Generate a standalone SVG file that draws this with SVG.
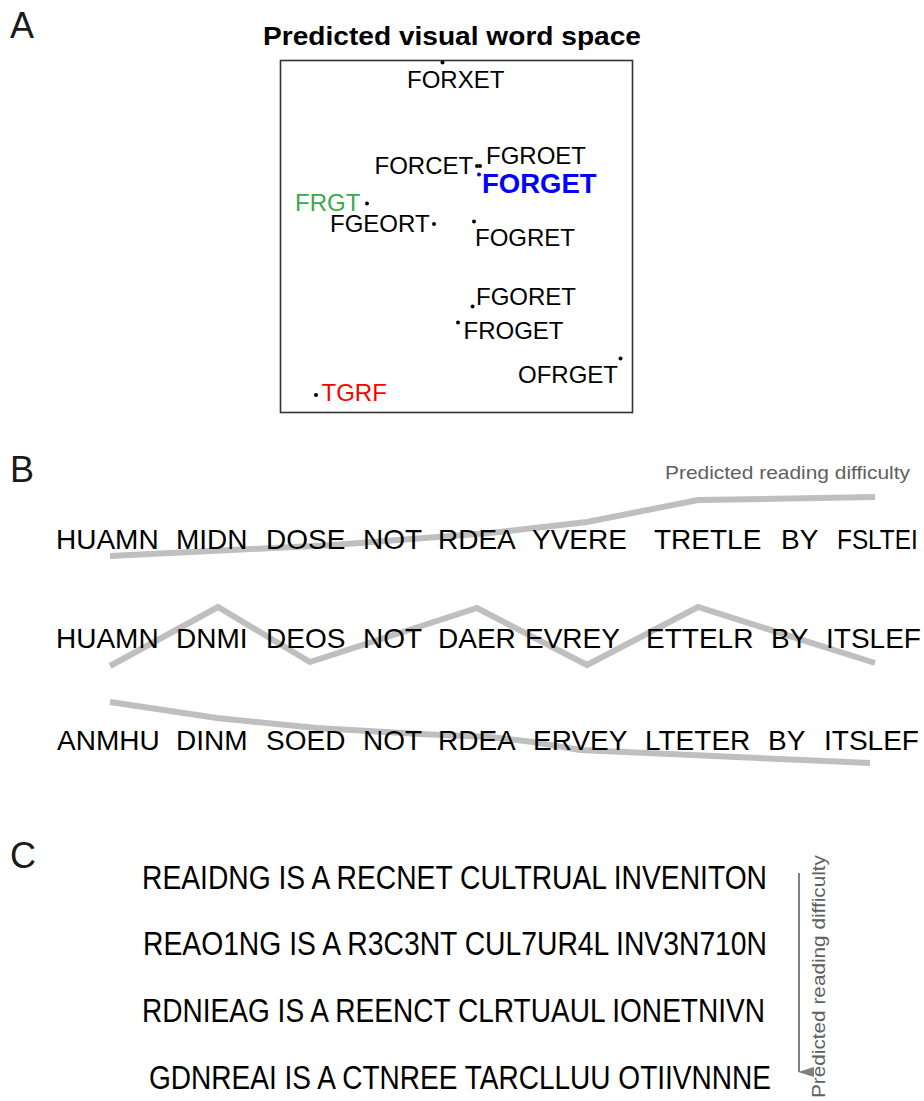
<svg xmlns="http://www.w3.org/2000/svg" width="924" height="1101" viewBox="0 0 924 1101">
<style>
text{font-family:"Liberation Sans",Arial,sans-serif;}
.panel{font-size:36px;fill:#1a1a1a;}
.w{font-size:24px;fill:#000;}
.dot{fill:#000;}
.row{font-size:28px;fill:#000;}
.rowc{font-size:33px;fill:#000;}
.curve{fill:none;stroke:#bfbfbf;stroke-width:6;stroke-linejoin:miter;}
.lab{font-size:19px;fill:#606060;}
</style>
<defs>
<marker id="ah" markerWidth="10" markerHeight="16" refX="5" refY="15" orient="auto-start-reverse" markerUnits="userSpaceOnUse" viewBox="0 0 10 16">
<path d="M0,0 L10,0 L5,16 Z" fill="#808080"/>
</marker>
</defs>
<rect width="924" height="1101" fill="#fff"/>

<g id="panel-labels">
<text class="panel" x="10" y="38">A</text>
<text class="panel" x="10" y="482">B</text>
<text class="panel" x="10" y="868">C</text>
</g>

<g id="panelA">
<text x="452" y="45" text-anchor="middle" font-size="25" font-weight="bold" textLength="378" lengthAdjust="spacingAndGlyphs">Predicted visual word space</text>
<rect x="280.5" y="60.5" width="352" height="352" fill="none" stroke="#333" stroke-width="1.6"/>
<g id="n-FORXET"><circle class="dot" cx="442.5" cy="62.5" r="2"/><text class="w" x="407" y="88">FORXET</text></g>
<g id="n-FGROET"><circle class="dot" cx="480" cy="166" r="2"/><text class="w" x="486" y="164">FGROET</text></g>
<g id="n-FORCET"><circle class="dot" cx="477" cy="166" r="2"/><text class="w" x="374.5" y="174">FORCET</text></g>
<g id="n-FORGET"><circle cx="479" cy="174.5" r="2" fill="#0000ff"/><text x="482" y="193" font-size="27.5" font-weight="bold" fill="#0000ff">FORGET</text></g>
<g id="n-FRGT"><circle class="dot" cx="367" cy="203.5" r="2"/><text x="295" y="210.5" font-size="24" fill="#3aa94b">FRGT</text></g>
<g id="n-FGEORT"><circle class="dot" cx="434" cy="224" r="2"/><text class="w" x="330" y="231.5">FGEORT</text></g>
<g id="n-FOGRET"><circle class="dot" cx="474" cy="221.5" r="2"/><text class="w" x="475" y="246">FOGRET</text></g>
<g id="n-FGORET"><circle class="dot" cx="472.5" cy="306.5" r="2"/><text class="w" x="476" y="305">FGORET</text></g>
<g id="n-FROGET"><circle class="dot" cx="458" cy="322.5" r="2"/><text class="w" x="463.5" y="339">FROGET</text></g>
<g id="n-OFRGET"><circle class="dot" cx="620.5" cy="358.5" r="2"/><text class="w" x="518" y="382.5">OFRGET</text></g>
<g id="n-TGRF"><circle class="dot" cx="316" cy="395" r="2"/><text x="321.5" y="401" font-size="24" fill="#ff0000">TGRF</text></g>
</g>

<g id="panelB">
<g id="connectors">
<polyline class="curve" points="110,556 333,545 490,533 587,522 698,500 875,497"/>
<polyline class="curve" points="110,666 218,607 310,662 477,608 587,665 698,607 875,663"/>
<polyline class="curve" points="110,702 217,718 317,728 420,734 490,737 533,742 580,750 870,763"/>
</g>
<text class="lab" x="665" y="479" textLength="245" lengthAdjust="spacingAndGlyphs">Predicted reading difficulty</text>
<text class="row" y="549"><tspan x="56">HUAMN</tspan><tspan x="176">MIDN</tspan><tspan x="266">DOSE</tspan><tspan x="363">NOT</tspan><tspan x="438">RDEA</tspan><tspan x="532">YVERE</tspan><tspan x="654">TRETLE</tspan><tspan x="781">BY</tspan></text>
<text class="row" transform="translate(837,549) scale(0.87,1)">FSLTEI</text>
<text class="row" y="648"><tspan x="56">HUAMN</tspan><tspan x="176">DNMI</tspan><tspan x="266">DEOS</tspan><tspan x="363">NOT</tspan><tspan x="438">DAER</tspan><tspan x="525">EVREY</tspan><tspan x="646">ETTELR</tspan><tspan x="771">BY</tspan><tspan x="826">ITSLEF</tspan></text>
<text class="row" y="750"><tspan x="57">ANMHU</tspan><tspan x="176">DINM</tspan><tspan x="266">SOED</tspan><tspan x="363">NOT</tspan><tspan x="438">RDEA</tspan><tspan x="533">ERVEY</tspan><tspan x="645">LTETER</tspan><tspan x="768">BY</tspan><tspan x="824">ITSLEF</tspan></text>
</g>

<g id="panelC">
<text class="rowc" x="142" y="889" textLength="625" lengthAdjust="spacingAndGlyphs">REAIDNG IS A RECNET CULTRUAL INVENITON</text>
<text class="rowc" x="143" y="955" textLength="624" lengthAdjust="spacingAndGlyphs">REAO1NG IS A R3C3NT CUL7UR4L INV3N710N</text>
<text class="rowc" x="142" y="1022" textLength="623" lengthAdjust="spacingAndGlyphs">RDNIEAG IS A REENCT CLRTUAUL IONETNIVN</text>
<text class="rowc" x="149" y="1089" textLength="622" lengthAdjust="spacingAndGlyphs">GDNREAI IS A CTNREE TARCLLUU OTIIVNNNE</text>
<g id="arrowC">
<line x1="799" y1="873" x2="799" y2="1072" stroke="#808080" stroke-width="2" marker-end="url(#ah)"/>
</g>
<text class="lab" transform="translate(825,1098) rotate(-90)" textLength="243" lengthAdjust="spacingAndGlyphs">Predicted reading difficulty</text>
</g>
</svg>
